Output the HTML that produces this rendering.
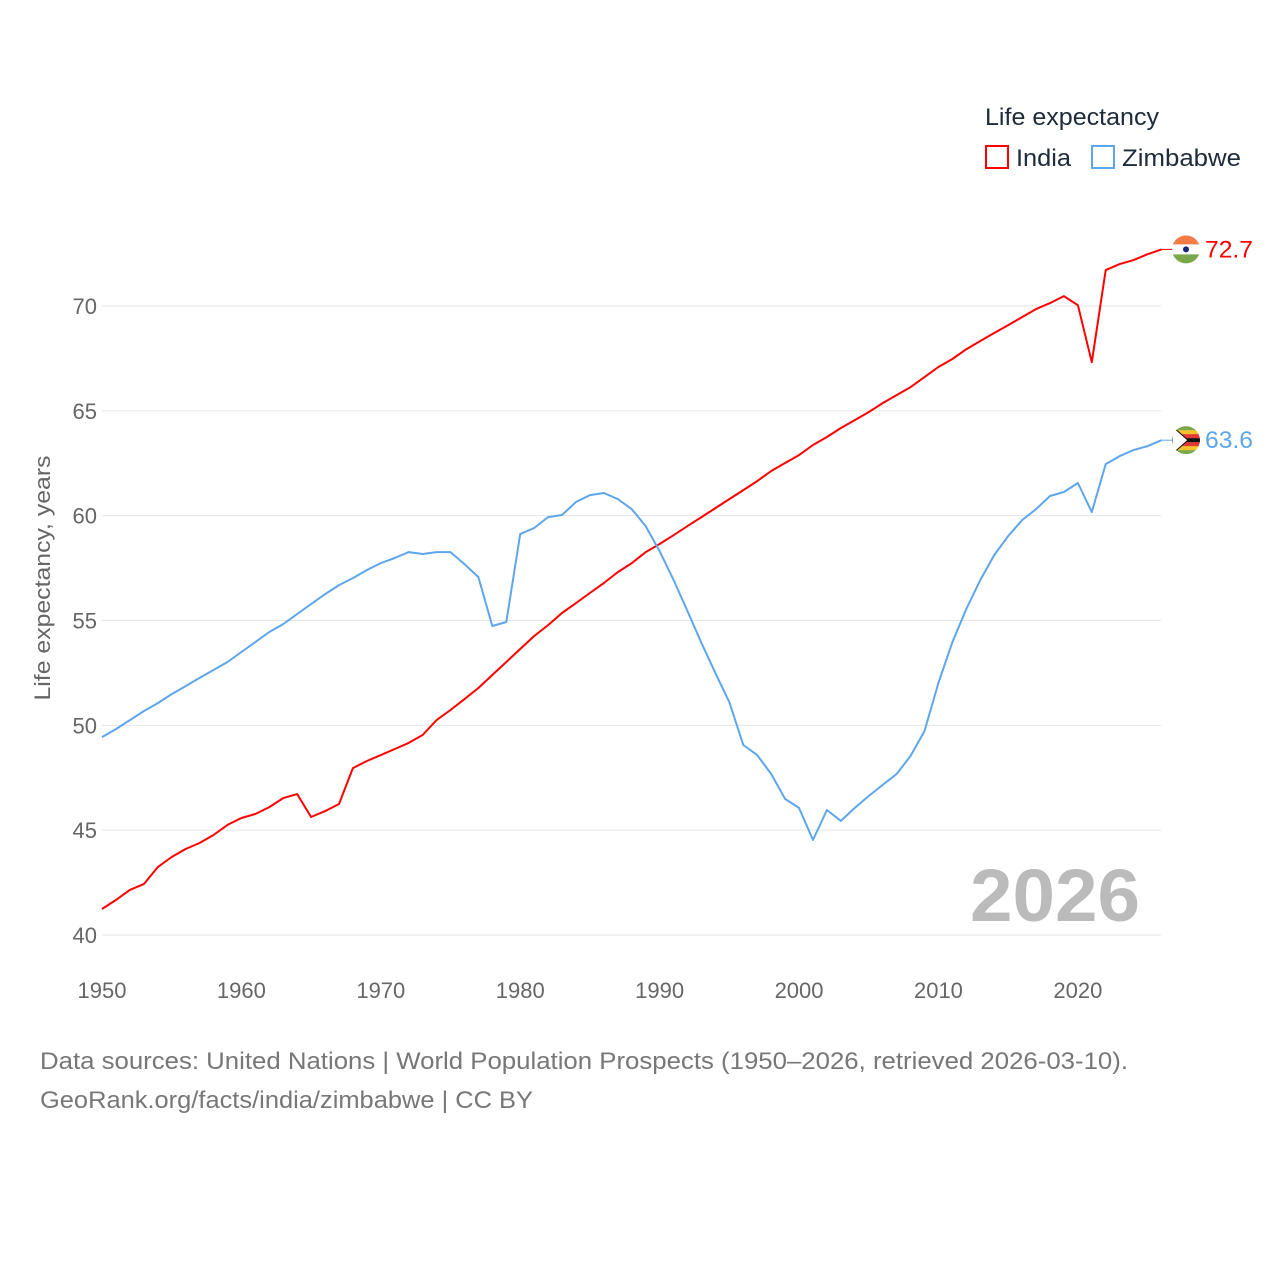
<!DOCTYPE html>
<html><head><meta charset="utf-8"><style>
body{margin:0;background:#fff;}
svg{display:block;font-family:"Liberation Sans",sans-serif;}
</style></head><body>
<svg id="chart" width="1280" height="1280"></svg>
<script>
const years=[];for(let y=1950;y<=2026;y++)years.push(y);
const india=[41.24,41.67,42.15,42.43,43.24,43.72,44.1,44.39,44.77,45.25,45.58,45.77,46.1,46.53,46.72,45.63,45.91,46.25,47.96,48.3,48.58,48.87,49.16,49.54,50.25,50.73,51.25,51.78,52.4,53.02,53.64,54.26,54.78,55.36,55.83,56.31,56.79,57.31,57.74,58.26,58.65,59.07,59.5,59.93,60.36,60.79,61.22,61.65,62.13,62.51,62.89,63.37,63.75,64.18,64.56,64.94,65.37,65.75,66.13,66.61,67.09,67.47,67.94,68.33,68.71,69.09,69.47,69.85,70.14,70.47,70.04,67.32,71.71,72.0,72.19,72.47,72.7];
const zimbabwe=[49.44,49.82,50.25,50.68,51.06,51.49,51.87,52.26,52.64,53.02,53.5,53.97,54.45,54.83,55.31,55.78,56.26,56.69,57.02,57.41,57.74,57.98,58.26,58.17,58.26,58.26,57.69,57.07,54.74,54.93,59.12,59.41,59.93,60.03,60.65,60.98,61.08,60.79,60.31,59.5,58.31,56.93,55.45,53.92,52.49,51.11,49.06,48.58,47.68,46.49,46.06,44.53,45.96,45.44,46.06,46.63,47.16,47.68,48.54,49.73,52.02,53.97,55.55,56.93,58.12,59.03,59.79,60.31,60.94,61.13,61.56,60.17,62.46,62.84,63.13,63.32,63.6];
const yTicks=[40,45,50,55,60,65,70];
const xTicks=[1950,1960,1970,1980,1990,2000,2010,2020];

const NS="http://www.w3.org/2000/svg";
const svg=document.getElementById('chart');
const X=y=>102+(y-1950)*(1161.5-102)/76;
const Y=v=>935-(v-40)*(935-306)/30;
function el(t,a,txt){const e=document.createElementNS(NS,t);for(const k in a)e.setAttribute(k,a[k]);if(txt!=null)e.textContent=txt;svg.appendChild(e);return e;}

yTicks.forEach(v=>{
  const g=el('line',{x1:102,x2:1161,y1:Y(v),y2:Y(v),stroke:'#e6e6e6','stroke-width':1});
  
  
  const t=el('text',{x:97,y:Y(v)+8,'text-anchor':'end','font-size':22,fill:'#666'},v);
  
  
});
xTicks.forEach(y=>{
  const t=el('text',{x:X(y),y:998,'text-anchor':'middle','font-size':22,fill:'#666'},y);
  
  
});
const at=el('text',{x:0,y:0,transform:'translate(50,578) rotate(-90)','text-anchor':'middle','font-size':22,fill:'#666',textLength:245,lengthAdjust:'spacingAndGlyphs'},'Life expectancy, years');



const big=el('text',{x:1140,y:921,'text-anchor':'end','font-size':74,'font-weight':'bold',fill:'#bbb',textLength:170,lengthAdjust:'spacingAndGlyphs'},'2026');



function series(data,color,name){
  const d=data.map((v,i)=>(i?'L':'M')+X(years[i]).toFixed(1)+' '+Y(v).toFixed(1)).join(' ');
  const p=el('path',{d,fill:'none',stroke:color,'stroke-width':2,'stroke-linejoin':'round'});
  
  
  const last=data[data.length-1];
  const ly=Y(last);
  el('line',{x1:X(2026),x2:1174,y1:ly,y2:ly,stroke:color,'stroke-width':1});
  const lab=el('text',{x:1205,y:ly+8,'font-size':24,fill:color,textLength:48,lengthAdjust:'spacingAndGlyphs'},last.toFixed(1));
  
  
  return ly;
}
const iy=series(india,'#ff0000','india');
const zy=series(zimbabwe,'#5ea6ec','zimbabwe');

const defs=el('defs',{});
function clip(id,cy){const c=document.createElementNS(NS,'clipPath');c.setAttribute('id',id);const ci=document.createElementNS(NS,'circle');ci.setAttribute('cx',1186);ci.setAttribute('cy',cy);ci.setAttribute('r',14);c.appendChild(ci);defs.appendChild(c);}
clip('ci',iy);clip('cz',zy);
const fi=el('g',{'clip-path':'url(#ci)'});


[['#f47b46',-14],['#fff',-5],['#7aa74a',5]].forEach(([c,o])=>{const r=document.createElementNS(NS,'rect');r.setAttribute('x',1172);r.setAttribute('y',iy+o);r.setAttribute('width',28);r.setAttribute('height',10);r.setAttribute('fill',c);fi.appendChild(r);});
const wc=document.createElementNS(NS,'circle');wc.setAttribute('cx',1186);wc.setAttribute('cy',iy);wc.setAttribute('r',3);wc.setAttribute('fill','#1a237e');fi.appendChild(wc);
const fz=el('g',{'clip-path':'url(#cz)'});


['#7aa74a','#f2c32d','#e53935','#111','#e53935','#f2c32d','#7aa74a'].forEach((c,i)=>{const r=document.createElementNS(NS,'rect');r.setAttribute('x',1172);r.setAttribute('y',zy-14+i*4);r.setAttribute('width',28);r.setAttribute('height',4.2);r.setAttribute('fill',c);fz.appendChild(r);});
const tri=document.createElementNS(NS,'polygon');tri.setAttribute('points',`1172,${zy-14} 1188,${zy} 1172,${zy+14}`);tri.setAttribute('fill','#fff');tri.setAttribute('stroke','#111');fz.appendChild(tri);

const lt=el('text',{x:985,y:125,'font-size':24,fill:'#1d2b3a',textLength:174,lengthAdjust:'spacingAndGlyphs'},'Life expectancy');


[[985,'#ff0000','India','legend-india',55],[1091,'#5ea6ec','Zimbabwe','legend-zimbabwe',119]].forEach(([x,c,n,dn,w])=>{
  const r=el('rect',{x:x+1,y:146,width:22,height:22,fill:'none',stroke:c,'stroke-width':2});
  
  
  const t=el('text',{x:x+31,y:166,'font-size':24,fill:'#1d2b3a',textLength:w,lengthAdjust:'spacingAndGlyphs'},n);
  
  
});

const f1=el('text',{x:40,y:1069,'font-size':24,fill:'#777',textLength:1088,lengthAdjust:'spacingAndGlyphs'},'Data sources: United Nations | World Population Prospects (1950–2026, retrieved 2026-03-10).');


const f2=el('text',{x:40,y:1108,'font-size':24,fill:'#777',textLength:493,lengthAdjust:'spacingAndGlyphs'},'GeoRank.org/facts/india/zimbabwe | CC BY');


</script>
</body></html>
